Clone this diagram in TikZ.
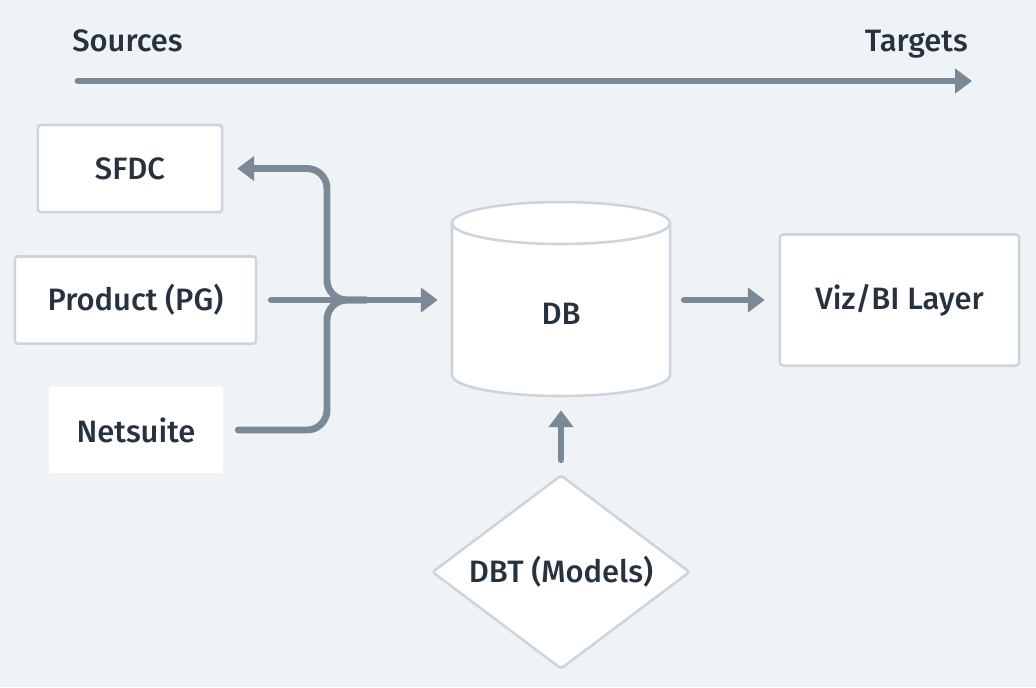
\documentclass[tikz,border=0pt]{standalone}
\usepackage{fontspec}
\setmainfont{Fira Sans Medium}
\usetikzlibrary{arrows.meta,shapes.geometric}
\definecolor{bgcol}{HTML}{EFF3F6}
\definecolor{edgecol}{HTML}{CBD5DE}
\definecolor{flowcol}{HTML}{7B8896}
\definecolor{inkcol}{HTML}{27323F}
\tikzset{
  box/.style={draw=edgecol, line width=1.8pt, fill=white, rounded corners=2pt,
    text=inkcol, inner sep=0pt, font=\fontsize{22}{26}\selectfont},
  heading/.style={text=inkcol, inner sep=0pt, font=\fontsize{22}{26}\selectfont},
  flow/.style={draw=flowcol, line width=4.9pt, line cap=round, rounded corners=0.5cm,
    >={Triangle[length=0.42cm,width=0.6cm]}, shorten >=0.35cm, shorten <=0.35cm}
}

\begin{document}
\begin{tikzpicture}[x=0.025cm, y=-0.025cm]
    \fill[bgcol] (0,0) rectangle (1036,687);
    \useasboundingbox (0,0) rectangle (1036,687);
    \node[heading, anchor=base west] (src) at (72,51) {Sources};
    \node[heading, anchor=base east] (tgt) at (968,51) {Targets};
    \coordinate (axl) at (78,81);
    \coordinate (axr) at (972,81);
    \draw[flow, ->, shorten <=0pt, shorten >=0pt] (axl) -- (axr);
    \node[box, minimum width=4.6cm, minimum height=2.175cm] (sfdc) at (130,168.5) {SFDC};
    \node[box, minimum width=6.025cm, minimum height=2.175cm] (pg) at (135.5,300) {Product (PG)};
    \node[box, draw=none, minimum width=4.35cm, minimum height=2.15cm] (ns) at (136,430) {Netsuite};
    \filldraw[draw=edgecol, fill=white, line width=1.8pt] (452,223) -- (452,375)
        arc (180:360:2.725cm and 0.525cm) -- (670,223)
        arc (0:180:2.725cm and 0.525cm) -- cycle;
    \draw[edgecol, line width=1.8pt] (452,223) arc (180:360:2.725cm and 0.525cm);
    \node[heading, minimum width=5.45cm, minimum height=4.8cm, text height=1.23cm, text depth=0pt] (db) at (561,300) {DB};
    \node[box, minimum width=5.975cm, minimum height=3.275cm] (viz) at (899.5,300) {Viz/BI Layer};
    \node[box, diamond, aspect=1.33, minimum width=6.45cm, minimum height=4.85cm] (dbt) at (561,572) {DBT (Models)};
    \coordinate (jn) at (327,300);
    \coordinate (jr) at (380,300);
    \draw[flow, <-] (sfdc.east) -| (jn) -- (jr);
    \draw[flow] (ns.east) -| (jn) -- (jr);
    \draw[flow, ->] (pg.east) -- (db.west);
    \draw[flow, ->] (db.east) -- (viz.west);
    \draw[flow, ->] (dbt.north) -- (db.south);
\end{tikzpicture}
\end{document}
